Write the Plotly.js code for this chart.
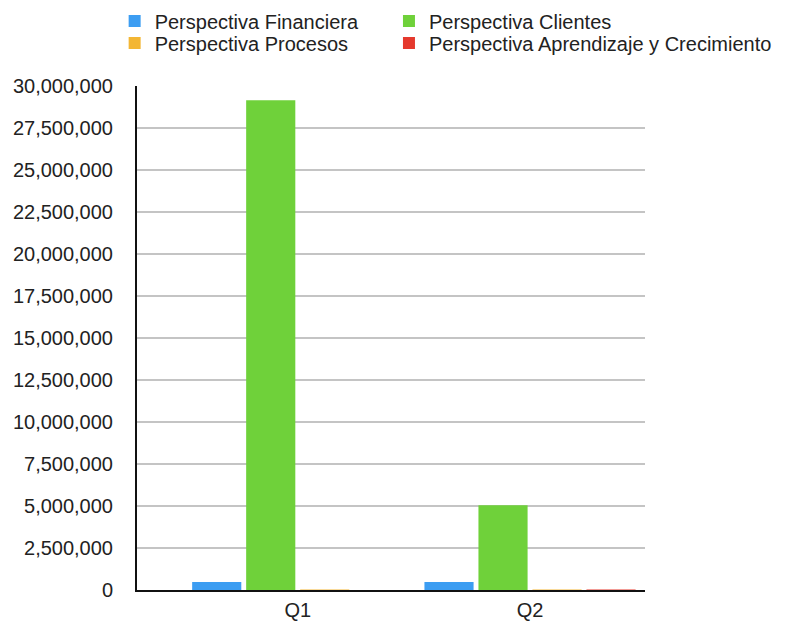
<!DOCTYPE html>
<html>
<head>
<meta charset="utf-8">
<script src="https://cdn.plot.ly/plotly-3.0.1.min.js"></script>
<style>html,body{margin:0;padding:0;background:#fff;}#chart{width:786px;height:623px;}</style>
</head>
<body>
<div id="chart"></div>
<script>
const categories = ["Q1", "Q2"];
const seriesNames = ["Perspectiva Financiera", "Perspectiva Clientes", "Perspectiva Procesos", "Perspectiva Aprendizaje y Crecimiento"];
const financiera = [480000, 480000];
const clientes = [29150000, 5050000];
const procesos = [30000, 30000];
const aprendizaje = [0, 30000];
const colors = ["#3c9df2", "#6fd13a", "#f3b634", "#e5392d"];
const legendIds = ["legend", "legend2", "legend3", "legend4"];
const tickVals = [0, 2500000, 5000000, 7500000, 10000000, 12500000, 15000000, 17500000, 20000000, 22500000, 25000000, 27500000, 30000000];

const values = [financiera, clientes, procesos, aprendizaje];
const traces = values.map((v, i) => ({
  type: "bar",
  name: seriesNames[i],
  x: categories,
  y: v,
  marker: {color: colors[i]},
  legend: legendIds[i],
  hoverinfo: "skip"
}));

function leg(x, y) {
  return {orientation: "v", x: x, xanchor: "left", y: y, yanchor: "middle", yref: "container", xref: "paper",
          font: {size: 20, color: "#222"}, bgcolor: "rgba(0,0,0,0)", borderwidth: 0};
}

const layout = {
  width: 786, height: 623,
  margin: {l: 137, r: 141, t: 86, b: 33},
  paper_bgcolor: "#fff", plot_bgcolor: "#fff",
  font: {family: "Liberation Sans, Arial, sans-serif", color: "#222"},
  barmode: "group",
  bargap: 0.07,
  bargroupgap: 0.09,
  showlegend: true,
  legend: leg(-0.044, 0.9663),
  legend2: leg(0.496, 0.9663),
  legend3: leg(-0.044, 0.931),
  legend4: leg(0.496, 0.931),
  xaxis: {
    type: "category",
    range: [-0.692, 1.495],
    showline: true, linecolor: "#111", linewidth: 2,
    ticks: "", showgrid: false, zeroline: false,
    tickfont: {size: 20, color: "#222"},
    ticklabelstandoff: 1,
    fixedrange: true
  },
  yaxis: {
    range: [0, 30000000],
    tickvals: tickVals,
    tickformat: ",d",
    showline: true, linecolor: "#111", linewidth: 2,
    showgrid: true, gridcolor: "#c4c4c4", gridwidth: 1.5,
    zeroline: false,
    ticks: "",
    tickfont: {size: 20, color: "#222"},
    ticklabelstandoff: 18,
    fixedrange: true
  }
};

Plotly.newPlot("chart", traces, layout, {displayModeBar: false, staticPlot: true});
</script>
</body>
</html>
